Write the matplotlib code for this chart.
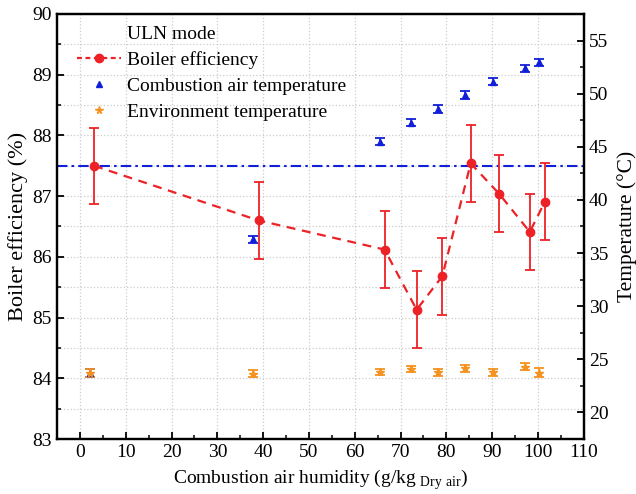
import numpy as np
import matplotlib
matplotlib.use('Agg')
import matplotlib.pyplot as plt
from matplotlib.lines import Line2D
from matplotlib.ticker import MultipleLocator

plt.rcParams['font.family'] = ['Liberation Serif', 'DejaVu Serif']
plt.rcParams['mathtext.fontset'] = 'custom'
plt.rcParams['mathtext.rm'] = 'Liberation Serif'

# boiler efficiency (left axis)
eff_x = [3.1, 39.0, 66.5, 73.5, 79.1, 85.3, 91.5, 98.2, 101.5]
eff = [87.50, 86.60, 86.12, 85.13, 85.68, 87.54, 87.04, 86.41, 86.91]
eff_err = [0.63, 0.63, 0.63, 0.63, 0.63, 0.63, 0.63, 0.63, 0.63]
ref_eff = 87.5

# temperatures (right axis)
tmp_x = [2.2, 37.8, 65.5, 72.3, 78.1, 84.1, 90.2, 97.1, 100.3]
air_t = [23.7, 36.3, 45.48, 47.27, 48.56, 49.88, 51.13, 52.39, 52.95]
air_err = [0.35, 0.35, 0.35, 0.35, 0.35, 0.35, 0.35, 0.35, 0.35]
env_t = [23.7, 23.65, 23.78, 24.09, 23.78, 24.15, 23.78, 24.3, 23.74]
env_err = [0.35, 0.3, 0.3, 0.3, 0.35, 0.3, 0.35, 0.35, 0.4]

red = '#ec2226'
blue = '#1020d8'
orange = '#f59320'

fig = plt.figure(figsize=(6.36, 4.94), dpi=100)
ax = fig.add_axes([0.0896, 0.1113, 0.8284, 0.8604])
ax2 = ax.twinx()

ax.axhline(ref_eff, color=blue, lw=1.5, dashes=(5, 2, 1.2, 2), zorder=2)
ax.errorbar(eff_x, eff, yerr=eff_err, fmt='none', ecolor=red, elinewidth=1.3,
            capsize=3.5, capthick=1.3, zorder=3)
ax.plot(eff_x, eff, color=red, lw=1.6, dashes=(4, 3), marker='o', ms=6,
        mfc=red, mec=red, zorder=4)

ax2.errorbar(tmp_x, air_t, yerr=air_err, fmt='^', color=blue, ms=5,
             ecolor=blue, elinewidth=1.2, capsize=3.5, capthick=1.3)
ax2.errorbar(tmp_x, env_t, yerr=env_err, fmt='*', color=orange, ms=6,
             ecolor=orange, elinewidth=1.2, capsize=3.5, capthick=1.3)

ax.set_xlim(-5, 110)
ax.set_ylim(83, 90)
ax2.set_ylim(17.5, 57.5)

ax.xaxis.set_major_locator(MultipleLocator(10))
ax.xaxis.set_minor_locator(MultipleLocator(5))
ax.yaxis.set_major_locator(MultipleLocator(1))
ax.yaxis.set_minor_locator(MultipleLocator(0.5))
ax2.yaxis.set_major_locator(MultipleLocator(5))
ax2.yaxis.set_minor_locator(MultipleLocator(2.5))

ax.grid(True, which='major', axis='x', color='#cccccc', ls=':', lw=0.9)
ax.grid(True, which='both', axis='y', color='#cccccc', ls=':', lw=0.9)
ax.set_axisbelow(True)

for a in (ax, ax2):
    a.tick_params(which='major', direction='in', length=5, width=1.3, labelsize=14)
    a.tick_params(which='minor', direction='in', length=3, width=1.1)
    for s in a.spines.values():
        s.set_linewidth(1.6)
ax.tick_params(axis='y', right=False)

ax.set_xlabel(r'Combustion air humidity (g/kg$_{\mathrm{\ Dry\ air}}$)', fontsize=14, labelpad=5)
ax.set_ylabel('Boiler efficiency (%)', fontsize=16, labelpad=3)
ax2.set_ylabel('Temperature (\u00b0C)', fontsize=15.5, labelpad=6)

handles = [
    Line2D([], [], color='none', label='ULN mode'),
    Line2D([], [], color=red, lw=1.6, dashes=(2.2, 1.6), marker='o', ms=6, label='Boiler efficiency'),
    Line2D([], [], color=blue, ls='none', marker='^', ms=4.5, label='Combustion air temperature'),
    Line2D([], [], color=orange, ls='none', marker='*', ms=5.5, label='Environment temperature'),
]
ax2.legend(handles=handles, loc='upper left', bbox_to_anchor=(0.015, 1.0), frameon=False,
           fontsize=14, handlelength=2.3, handletextpad=0.3, labelspacing=0.42,
           borderaxespad=0.2)

fig.savefig('out.png', dpi=100)
